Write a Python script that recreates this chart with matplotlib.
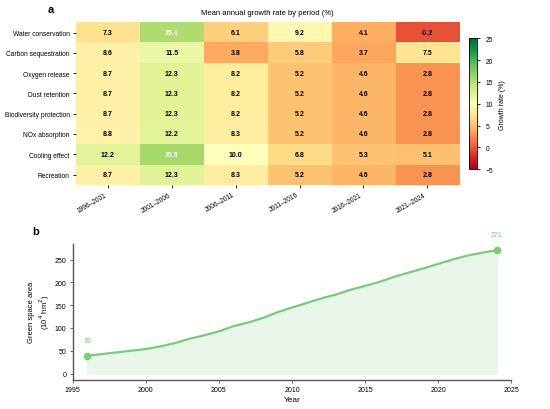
import matplotlib
matplotlib.use("Agg")
import matplotlib.pyplot as plt
import numpy as np

plt.rcParams['font.family'] = ['Liberation Sans', 'DejaVu Sans']

services = ["Water conservation", "Carbon sequestration", "Oxygen release", "Dust retention",
            "Biodiversity protection", "NOx absorption", "Cooling effect", "Recreation"]
periods = ["1996\u20132001", "2001\u20132006", "2006\u20132011", "2011\u20132016", "2016\u20132021", "2021\u20132024"]
rates = np.array([
    [7.3, 15.4, 6.1, 9.2, 4.1, -0.2],
    [8.6, 11.5, 3.8, 5.8, 3.7, 7.5],
    [8.7, 12.3, 8.2, 5.2, 4.6, 2.8],
    [8.7, 12.3, 8.2, 5.2, 4.6, 2.8],
    [8.7, 12.3, 8.2, 5.2, 4.6, 2.8],
    [8.8, 12.2, 8.3, 5.2, 4.6, 2.8],
    [12.2, 15.9, 10.0, 6.8, 5.3, 5.1],
    [8.7, 12.3, 8.3, 5.2, 4.6, 2.8],
])

years = list(range(1996, 2025))
area = [39, 42.7, 46.4, 50, 53.7, 59.5, 67, 76.5, 84, 92.6, 104, 112, 122, 134.6, 145,
        155, 165, 173.5, 184, 192.6, 201.5, 212.5, 222, 231, 241, 250.7, 259, 265.4, 271]

fig = plt.figure(figsize=(5.5, 4.1), dpi=100)

# Panel a
ax = fig.add_axes([0.138, 0.547, 0.697, 0.396])
im = ax.imshow(rates, cmap='RdYlGn', vmin=-5, vmax=25, aspect='auto')
for i in range(rates.shape[0]):
    for j in range(rates.shape[1]):
        v = rates[i, j]
        ax.text(j, i, f"{v:.1f}", ha='center', va='center', fontsize=5, fontweight='bold',
                color='white' if v > 15 else 'black')
ax.set_xticks(range(len(periods)))
ax.set_xticklabels(periods, rotation=30, ha='right', fontsize=4.8)
ax.set_yticks(range(len(services)))
ax.set_yticklabels(services, fontsize=4.8)
ax.tick_params(length=2.5, width=0.6, pad=2)
for s in ax.spines.values():
    s.set_visible(False)
ax.set_title("Mean annual growth rate by period (%)", fontsize=5.5, pad=6)
fig.text(0.087, 0.975, "a", fontsize=8, fontweight='bold', va='center')

cax = fig.add_axes([0.852, 0.585, 0.0157, 0.319])
cb = fig.colorbar(im, cax=cax)
cb.set_ticks([-5, 0, 5, 10, 15, 20, 25])
cb.ax.tick_params(labelsize=4.8, length=2.5, width=0.6)
cb.set_label("Growth rate (%)", fontsize=5)
cb.outline.set_linewidth(0.6)

# Panel b
bx = fig.add_axes([0.132, 0.0715, 0.798, 0.331])
green = '#77cc77'
bx.fill_between(years, area, 0, color='#eaf6ea')
bx.plot(years, area, color=green, lw=1.6)
bx.plot([years[0], years[-1]], [area[0], area[-1]], 'o', color=green, ms=4.5)
bx.text(years[0], area[0] + 30, f"{area[0]:.0f}", color=green, fontsize=5, ha='center')
bx.text(years[-1], area[-1] + 30, f"{area[-1]:.0f}", color=green, fontsize=5, ha='center')
bx.set_xlim(1995, 2025)
bx.set_xticks(range(1995, 2026, 5))
bx.set_yticks(range(0, 251, 50))
bx.tick_params(labelsize=5, length=2.5, width=0.6, color='#555555', pad=2)
for s in ['top', 'right']:
    bx.spines[s].set_visible(False)
for s in ['left', 'bottom']:
    bx.spines[s].set_linewidth(1.0)
    bx.spines[s].set_color('#555555')
bx.set_xlabel("Year", fontsize=6, labelpad=2)
bx.set_ylabel("Green space area\n(10$^4$ hm$^2$)", fontsize=5.5, labelpad=2)
fig.text(0.058, 0.433, "b", fontsize=8, fontweight='bold', va='center')

fig.savefig("out.png", dpi=100)
